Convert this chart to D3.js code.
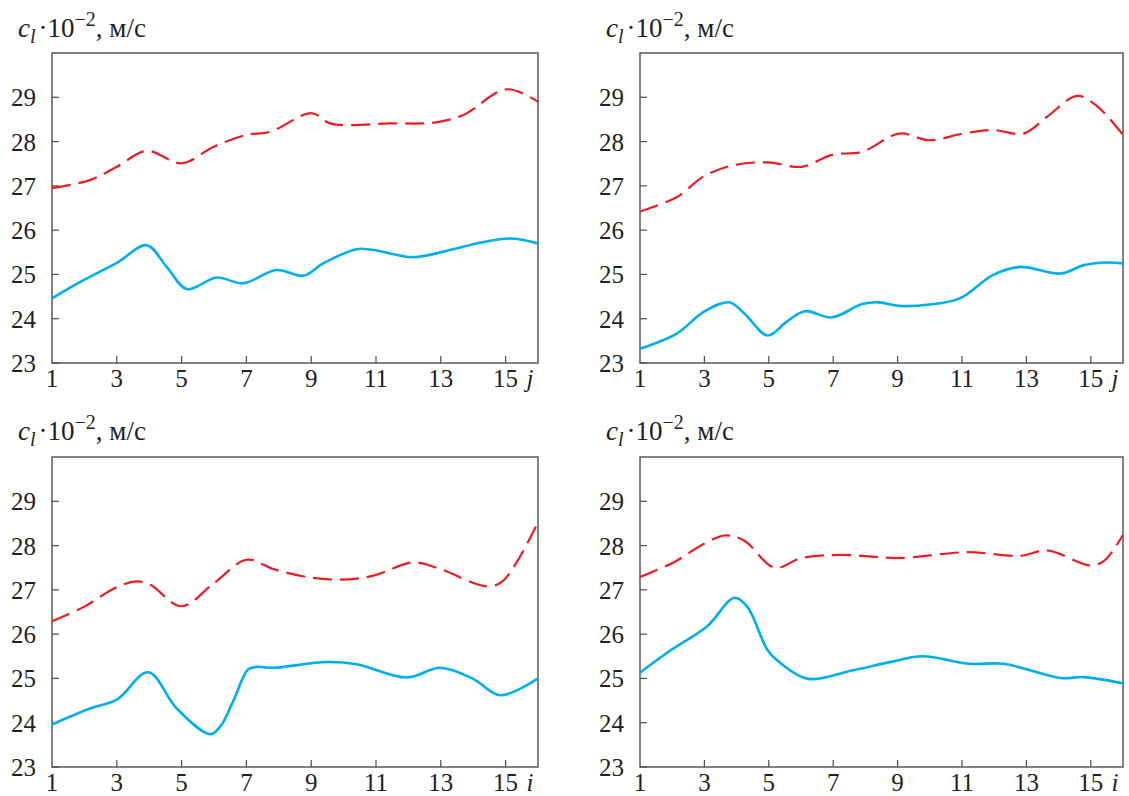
<!DOCTYPE html>
<html>
<head>
<meta charset="utf-8">
<script src="https://cdn.jsdelivr.net/npm/d3@7"></script>
<style>
  body { margin: 0; background: #fff; }
</style>
</head>
<body>
<svg id="chart" width="1129" height="796" font-family="'Liberation Serif', 'Times New Roman', serif" fill="#231f20"></svg>
<script>
const yTicks = [23, 24, 25, 26, 27, 28, 29];
const xTicks = [1, 3, 5, 7, 9, 11, 13, 15];

// top left (j)
const tlRedX = [1, 2.17, 3, 3.92, 5, 5.98, 7, 7.73, 9.01, 9.58, 10.2, 11.43, 12.46, 12.98, 13.7, 15.03, 16];
const tlRedY = [26.95, 27.13, 27.43, 27.79, 27.51, 27.88, 28.15, 28.22, 28.64, 28.41, 28.37, 28.41, 28.41, 28.45, 28.6, 29.18, 28.9];
const tlBlueX = [1, 1.97, 3, 3.92, 4.54, 5.16, 6.08, 6.9, 7.93, 8.76, 9.37, 10.4, 10.92, 12.15, 13.28, 14.1, 15.14, 16];
const tlBlueY = [24.46, 24.87, 25.26, 25.66, 25.17, 24.67, 24.93, 24.8, 25.1, 24.97, 25.25, 25.57, 25.55, 25.39, 25.55, 25.7, 25.81, 25.7];

// top right (j)
const trRedX = [1, 2.15, 2.99, 3.93, 4.97, 6.02, 6.96, 7.9, 9.05, 9.99, 11.03, 11.97, 12.91, 13.64, 14.58, 15.21, 16];
const trRedY = [26.42, 26.75, 27.22, 27.47, 27.53, 27.43, 27.7, 27.77, 28.18, 28.03, 28.18, 28.26, 28.18, 28.56, 29.03, 28.79, 28.15];
const trBlueX = [1, 2.15, 2.99, 3.77, 4.24, 4.97, 5.55, 6.12, 6.96, 7.9, 8.42, 9.05, 9.99, 10.93, 11.97, 12.81, 14.06, 14.79, 15.52, 16];
const trBlueY = [23.32, 23.67, 24.16, 24.37, 24.12, 23.62, 23.93, 24.17, 24.03, 24.33, 24.37, 24.29, 24.32, 24.46, 24.99, 25.17, 25.02, 25.21, 25.27, 25.25];

// bottom left (i)
const blRedX = [1, 1.97, 3, 3.61, 4.02, 5, 5.98, 7.01, 7.83, 8.86, 9.89, 10.92, 12.15, 12.98, 14.42, 14.93, 16];
const blRedY = [26.29, 26.61, 27.06, 27.19, 27.12, 26.63, 27.14, 27.68, 27.47, 27.29, 27.23, 27.32, 27.62, 27.47, 27.08, 27.21, 28.53];
const blBlueX = [1, 2.17, 3, 3.97, 4.85, 5.88, 6.2, 6.6, 7.05, 7.32, 7.83, 9.48, 10.4, 11.95, 12.98, 14, 14.83, 16];
const blBlueY = [23.96, 24.32, 24.52, 25.14, 24.32, 23.74, 23.92, 24.5, 25.2, 25.26, 25.24, 25.37, 25.32, 25.02, 25.24, 24.99, 24.62, 25.0];

// bottom right (i)
const brRedX = [1, 2.04, 2.99, 3.66, 4.24, 5.18, 6.02, 7.27, 9.05, 11.14, 12.81, 13.64, 15, 15.42, 16];
const brRedY = [27.29, 27.62, 28.04, 28.23, 28.11, 27.5, 27.72, 27.79, 27.72, 27.85, 27.77, 27.89, 27.55, 27.66, 28.24];
const brBlueX = [1, 1.94, 3.09, 3.93, 4.34, 4.97, 5.39, 6.22, 7.58, 8.84, 9.78, 11.24, 12.29, 14.06, 14.79, 16];
const brBlueY = [25.13, 25.63, 26.18, 26.82, 26.61, 25.63, 25.33, 24.99, 25.18, 25.38, 25.5, 25.33, 25.33, 25.01, 25.03, 24.89];

const svg = d3.select("#chart");

const panels = [
	{left: 52, right: 538, top: 53, bottom: 363, titleX: 18, titleY: 37, xName: "j",
	 red: [tlRedX, tlRedY], blue: [tlBlueX, tlBlueY]},
	{left: 640, right: 1123, top: 53, bottom: 363, titleX: 606, titleY: 37, xName: "j",
	 red: [trRedX, trRedY], blue: [trBlueX, trBlueY]},
	{left: 52, right: 538, top: 457, bottom: 767, titleX: 18, titleY: 440, xName: "i",
	 red: [blRedX, blRedY], blue: [blBlueX, blBlueY]},
	{left: 640, right: 1123, top: 457, bottom: 767, titleX: 606, titleY: 440, xName: "i",
	 red: [brRedX, brRedY], blue: [brBlueX, brBlueY]}
];

function drawPanel(p) {
	const x = d3.scaleLinear().domain([1, 16]).range([p.left, p.right]);
	const y = d3.scaleLinear().domain([23, 30]).range([p.bottom, p.top]);
	const g = svg.append("g");

	// frame
	g.append("rect")
		.attr("x", p.left).attr("y", p.top)
		.attr("width", p.right - p.left).attr("height", p.bottom - p.top)
		.attr("fill", "none").attr("stroke", "#4d4d4f").attr("stroke-width", 1.4);

	// ticks
	g.selectAll(".yt").data(yTicks).enter().append("line")
		.attr("x1", p.left).attr("x2", p.left + 7)
		.attr("y1", d => y(d)).attr("y2", d => y(d))
		.attr("stroke", "#4d4d4f").attr("stroke-width", 1.2);
	g.selectAll(".xt").data(xTicks.slice(1)).enter().append("line")
		.attr("x1", d => x(d)).attr("x2", d => x(d))
		.attr("y1", p.bottom).attr("y2", p.bottom - 7)
		.attr("stroke", "#4d4d4f").attr("stroke-width", 1.2);

	// tick labels
	g.selectAll(".yl").data(yTicks).enter().append("text")
		.attr("x", p.left - 16).attr("y", d => y(d) + 9)
		.attr("text-anchor", "end").attr("font-size", 25)
		.text(d => d);
	g.selectAll(".xl").data(xTicks).enter().append("text")
		.attr("x", d => x(d)).attr("y", p.bottom + 24)
		.attr("text-anchor", "middle").attr("font-size", 25)
		.text(d => d);
	g.append("text")
		.attr("x", x(15.75)).attr("y", p.bottom + 24)
		.attr("text-anchor", "middle").attr("font-size", 25).attr("font-style", "italic")
		.text(p.xName);

	// title
	const t = g.append("text").attr("x", p.titleX).attr("y", p.titleY).attr("font-size", 27);
	t.append("tspan").attr("font-style", "italic").text("c");
	t.append("tspan").attr("font-style", "italic").attr("font-size", 20).attr("dy", 6).text("l");
	t.append("tspan").attr("dy", -6).attr("dx", 3).text("\u00b710");
	t.append("tspan").attr("font-size", 20).attr("dy", -11).text("\u22122");
	t.append("tspan").attr("dy", 11).text(", м/с");

	// curves
	const line = d3.line()
		.x(d => x(d[0])).y(d => y(d[1]))
		.curve(d3.curveCatmullRom.alpha(0.5));
	const redPts = p.red[0].map((v, i) => [v, p.red[1][i]]);
	const bluePts = p.blue[0].map((v, i) => [v, p.blue[1][i]]);
	g.append("path").datum(redPts).attr("d", line)
		.attr("fill", "none").attr("stroke", "#ed1c24").attr("stroke-width", 2.2)
		.attr("stroke-dasharray", "19, 8");
	g.append("path").datum(bluePts).attr("d", line)
		.attr("fill", "none").attr("stroke", "#00aeef").attr("stroke-width", 2.6);
}

panels.forEach(drawPanel);
</script>
</body>
</html>
